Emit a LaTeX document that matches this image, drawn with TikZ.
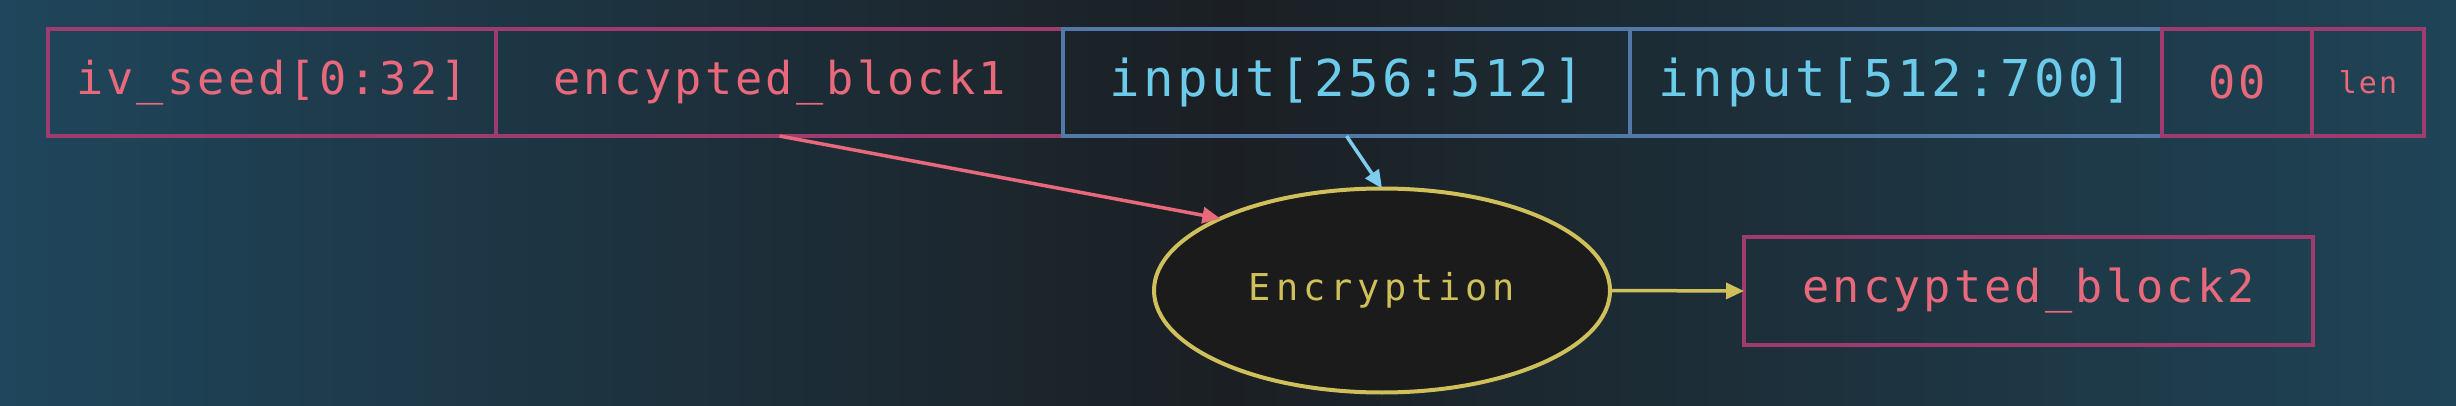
\documentclass[tikz,border=0pt]{standalone}
\usepackage{fontspec}
\setmonofont{DejaVu Sans Mono}
\newfontfamily\monoA[LetterSpace=7]{DejaVu Sans Mono}
\newfontfamily\monoB[LetterSpace=13]{DejaVu Sans Mono}
\usetikzlibrary{arrows.meta,shapes.geometric}
\definecolor{bgL}{HTML}{1F465C}
\definecolor{bgM}{HTML}{1B1F23}
\definecolor{bgR}{HTML}{1F4457}
\definecolor{magc}{HTML}{9E3C6F}
\definecolor{bluec}{HTML}{5279A8}
\definecolor{pinkc}{HTML}{E8697B}
\definecolor{cyanc}{HTML}{6CCBEB}
\definecolor{cyanl}{HTML}{7FCDEE}
\definecolor{yelc}{HTML}{D0C05C}
\definecolor{ellfill}{HTML}{1B1B1B}
\tikzset{
  boxbase/.style={draw, line width=2pt, inner sep=0pt, outer sep=0pt, minimum height=53.5pt},
  magbox/.style={boxbase, draw=magc, text=pinkc},
  bluebox/.style={boxbase, draw=bluec, text=cyanc},
  fA/.style={font=\monoA\fontsize{22.6}{26}\selectfont},
  fIn/.style={font=\monoA\fontsize{25.4}{29}\selectfont},
  fLen/.style={font=\monoA\fontsize{15}{18}\selectfont},
  fEnc/.style={font=\monoB\fontsize{18.5}{22}\selectfont},
  arr/.style={-{Triangle[length=9pt,width=8pt]}, line width=1.75pt}
}
\begin{document}
\begin{tikzpicture}[x=0.5pt,y=-0.5pt]
\shade[left color=bgL, right color=bgR, middle color=bgM] (0,0) rectangle (2456,406);
\useasboundingbox (0,0) rectangle (2456,406);
% top row
\node[magbox, fA, minimum width=224pt] (iv) at (272,82.5) {iv\_seed[0:32]};
\node[magbox, fA, minimum width=283.5pt] (eb1) at (779.5,82.5) {encypted\_block1};
\node[bluebox, fIn, minimum width=283.5pt] (in1) at (1346.5,82.5) {input[256:512]};
\node[bluebox, fIn, minimum width=266pt] (in2) at (1896,82.5) {input[512:700]};
\node[magbox, fA, minimum width=75pt] (zz) at (2237,82.5) {00};
\node[magbox, fLen, minimum width=56pt] (len) at (2368,82.5) {len};
% encryption
\node[ellipse, draw=yelc, fill=ellfill, line width=2pt, inner sep=0pt, outer sep=0pt,
      minimum width=228pt, minimum height=102pt, text=yelc, fEnc] (enc) at (1382,290.5) {Encryption};
\node[magbox, fA, minimum width=284.5pt, minimum height=54pt] (eb2) at (2028.5,291) {encypted\_block2};
% connectors
\draw[arr, pinkc] (eb1.south) -- (enc.156);
\draw[arr, cyanl] (in1.south) -- (enc.north);
\draw[arr, yelc] (enc.east) -- (eb2.west);
\end{tikzpicture}
\end{document}
